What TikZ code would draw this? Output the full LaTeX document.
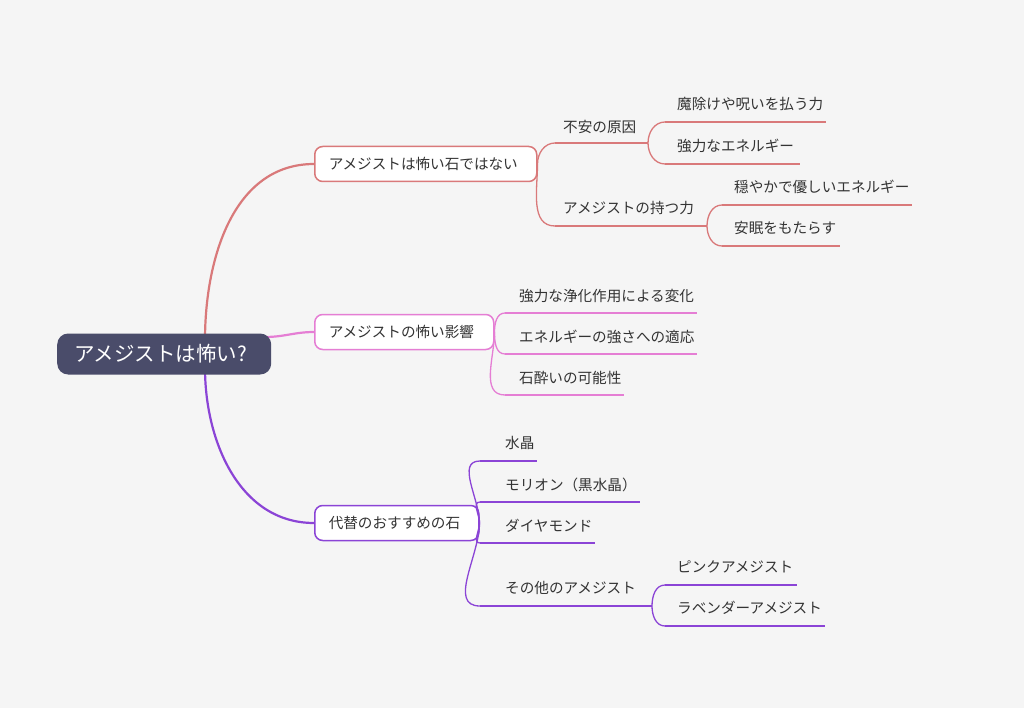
\documentclass[tikz,border=0pt]{standalone}
\usepackage{fontspec}
\setmainfont{Noto Sans CJK JP}
\begin{document}
\begin{tikzpicture}[x=1pt,y=-1pt,
  lf/.style={anchor=west,inner sep=0pt,font=\fontsize{14.6}{16}\selectfont,text=black!80},
  bx/.style={draw=#1,line width=1.5pt,rounded corners=8pt,fill=white,minimum height=35pt,inner xsep=14pt,anchor=west,align=left,font=\fontsize{14.6}{16}\selectfont,text=black!80},
  ln/.style={draw=#1,line width=1.3pt},
  mn/.style={draw=#1,line width=2.2pt}]
\definecolor{cA}{HTML}{D9797A}
\definecolor{cB}{HTML}{E57ED4}
\definecolor{cC}{HTML}{8B44D6}
\definecolor{rt}{HTML}{4A4C6A}
\fill[black!4] (0,0) rectangle (1024,708);
\useasboundingbox (0,0) rectangle (1024,708);
% main branches
\coordinate (r1) at (205,340);
\coordinate (r3) at (205,368);
\coordinate (r2) at (265,337);
\node[bx=cA,text width=194pt] (b1) at (314,164) {アメジストは怖い石ではない};
\node[bx=cB,text width=151pt] (b2) at (314,332) {アメジストの怖い影響};
\node[bx=cC,text width=136pt] (b3) at (314,523) {代替のおすすめの石};
\draw[mn=cA] (r1) to[out=90,in=180] (b1.west);
\draw[mn=cB] (r2) to[out=0,in=180] (b2.west);
\draw[mn=cC] (r3) to[out=-90,in=180] (b3.west);
\node[fill=rt,rounded corners=11pt,minimum height=41pt,inner xsep=17pt,text width=180pt,align=left,text=white,font=\fontsize{20.5}{22}\selectfont,anchor=west] (root) at (57,354) {アメジストは怖い?};
% branch 1
\node[lf] (a1) at (563,127) {不安の原因};
\coordinate (a1s) at (555,143); \coordinate (a1e) at (648,143);
\node[lf] (a11) at (677,104) {魔除けや呪いを払う力};
\coordinate (a11s) at (665,122); \coordinate (a11e) at (826,122);
\node[lf] (a12) at (677,146) {強力なエネルギー};
\coordinate (a12s) at (665,164); \coordinate (a12e) at (800,164);
\node[lf] (a2) at (563,208) {アメジストの持つ力};
\coordinate (a2s) at (555,226); \coordinate (a2e) at (707,226);
\node[lf] (a21) at (734,187) {穏やかで優しいエネルギー};
\coordinate (a21s) at (722,205); \coordinate (a21e) at (912,205);
\node[lf] (a22) at (734,228) {安眠をもたらす};
\coordinate (a22s) at (722,246); \coordinate (a22e) at (840,246);
\foreach \p in {a1,a11,a12,a2,a21,a22}{\draw[ln=cA] (\p s) -- (\p e);}
\draw[ln=cA] (b1.east) to[out=90,in=180] (a1s);
\draw[ln=cA] (b1.east) to[out=-90,in=180] (a2s);
\draw[ln=cA] (a1e) to[out=90,in=180] (a11s);
\draw[ln=cA] (a1e) to[out=-90,in=180] (a12s);
\draw[ln=cA] (a2e) to[out=90,in=180] (a21s);
\draw[ln=cA] (a2e) to[out=-90,in=180] (a22s);
% branch 2
\node[lf] (c1) at (519,296) {強力な浄化作用による変化};
\coordinate (c1s) at (505,313); \coordinate (c1e) at (697,313);
\node[lf] (c2) at (519,337) {エネルギーの強さへの適応};
\coordinate (c2s) at (505,354); \coordinate (c2e) at (697,354);
\node[lf] (c3) at (519,378) {石酔いの可能性};
\coordinate (c3s) at (505,395); \coordinate (c3e) at (624,395);
\foreach \p in {c1,c2,c3}{\draw[ln=cB] (\p s) -- (\p e);}
\draw[ln=cB] (b2.east) to[out=90,in=180] (c1s);
\draw[ln=cB] (b2.east) to[out=-90,in=180] (c2s);
\draw[ln=cB] (b2.east) to[out=-90,in=180] (c3s);
% branch 3
\node[lf] (d1) at (505,443) {水晶};
\coordinate (d1s) at (480,461); \coordinate (d1e) at (537,461);
\node[lf] (d2) at (505,485) {モリオン（黒水晶）};
\coordinate (d2s) at (480,502); \coordinate (d2e) at (640,502);
\node[lf] (d3) at (505,526) {ダイヤモンド};
\coordinate (d3s) at (480,543); \coordinate (d3e) at (595,543);
\node[lf] (d4) at (505,588) {その他のアメジスト};
\coordinate (d4s) at (480,606); \coordinate (d4e) at (652,606);
\node[lf] (d41) at (677,567) {ピンクアメジスト};
\coordinate (d41s) at (665,585); \coordinate (d41e) at (797,585);
\node[lf] (d42) at (677,608) {ラベンダーアメジスト};
\coordinate (d42s) at (665,626); \coordinate (d42e) at (825,626);
\foreach \p in {d1,d2,d3,d4,d41,d42}{\draw[ln=cC] (\p s) -- (\p e);}
\draw[ln=cC] (b3.east) to[out=90,in=180] (d1s);
\draw[ln=cC] (b3.east) to[out=90,in=180] (d2s);
\draw[ln=cC] (b3.east) to[out=-90,in=180] (d3s);
\draw[ln=cC] (b3.east) to[out=-90,in=180] (d4s);
\draw[ln=cC] (d4e) to[out=90,in=180] (d41s);
\draw[ln=cC] (d4e) to[out=-90,in=180] (d42s);
\end{tikzpicture}
\end{document}
